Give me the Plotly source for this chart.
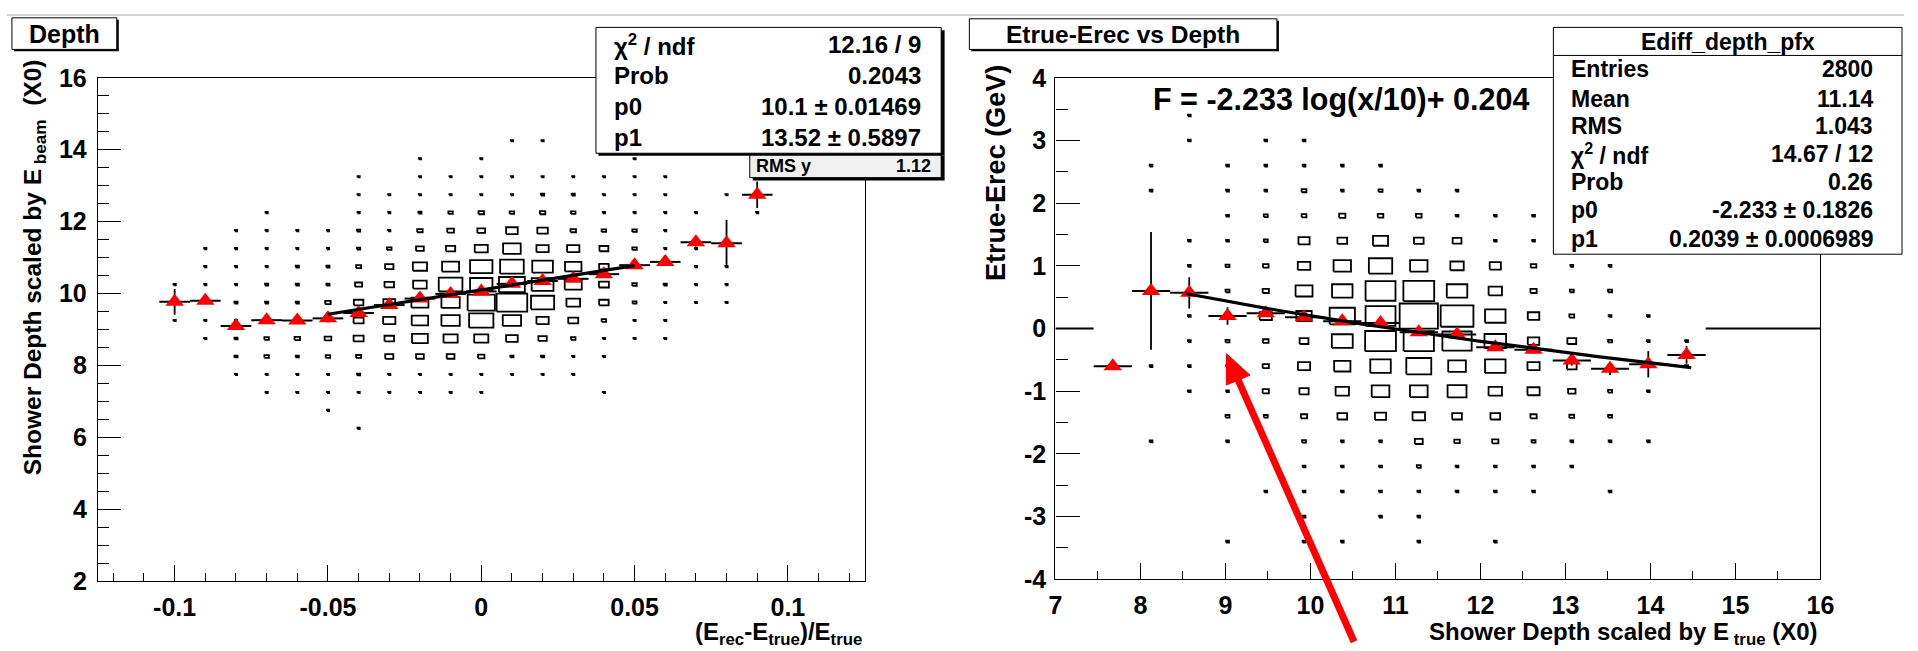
import numpy as np
import plotly.graph_objects as go

W, H = 1918, 651

# ---------------- data: left panel (Depth) ----------------
left_x = [-0.10, -0.09, -0.08, -0.07, -0.06, -0.05, -0.04, -0.03, -0.02, -0.01,
          0.00, 0.01, 0.02, 0.03, 0.04, 0.05, 0.06, 0.07, 0.08, 0.09]
left_y = [14.25, 13.75, 13.25, 12.75, 12.25, 11.75, 11.25, 10.75, 10.25, 9.75,
          9.25, 8.75, 8.25, 7.75, 7.25, 6.75, 6.25]
left_counts = [
    [0, 0, 0, 0, 0, 0, 0, 0, 0, 0, 0, 1, 1, 0, 0, 0, 0, 0, 0, 0],
    [0, 0, 0, 0, 0, 0, 0, 0, 1, 0, 1, 0, 0, 0, 0, 1, 0, 0, 0, 0],
    [0, 0, 0, 0, 0, 0, 1, 0, 1, 1, 1, 1, 1, 1, 1, 1, 1, 0, 0, 0],
    [0, 0, 0, 0, 0, 0, 1, 1, 1, 1, 1, 1, 2, 2, 1, 1, 1, 0, 1, 0],
    [0, 0, 0, 1, 0, 0, 1, 1, 2, 4, 6, 4, 6, 4, 1, 1, 1, 1, 0, 1],
    [0, 0, 1, 1, 1, 1, 2, 1, 6, 9, 12, 27, 22, 6, 4, 4, 1, 0, 0, 0],
    [0, 1, 1, 1, 1, 1, 2, 4, 12, 17, 34, 62, 30, 30, 16, 4, 1, 1, 0, 0],
    [0, 1, 1, 1, 2, 2, 5, 14, 40, 58, 100, 112, 85, 54, 18, 2, 0, 1, 1, 0],
    [1, 1, 1, 2, 2, 2, 10, 18, 37, 112, 100, 134, 95, 58, 20, 4, 2, 1, 1, 0],
    [1, 1, 2, 2, 2, 6, 18, 28, 58, 67, 148, 188, 107, 37, 18, 3, 1, 1, 1, 0],
    [1, 1, 1, 2, 2, 2, 20, 30, 54, 67, 118, 67, 30, 20, 4, 1, 1, 0, 0, 0],
    [0, 1, 2, 4, 6, 9, 20, 18, 50, 40, 40, 27, 14, 4, 1, 1, 1, 0, 0, 0],
    [0, 0, 2, 4, 2, 4, 5, 13, 12, 12, 8, 2, 2, 1, 1, 0, 0, 0, 0, 0],
    [0, 0, 1, 1, 1, 1, 2, 1, 1, 1, 1, 1, 1, 1, 0, 0, 0, 0, 0, 0],
    [0, 0, 0, 1, 1, 1, 1, 1, 1, 1, 1, 0, 0, 0, 1, 0, 0, 0, 0, 0],
    [0, 0, 0, 0, 0, 1, 0, 0, 0, 0, 0, 0, 0, 0, 0, 0, 0, 0, 0, 0],
    [0, 0, 0, 0, 0, 0, 1, 0, 0, 0, 0, 0, 0, 0, 0, 0, 0, 0, 0, 0],
]
left_prof_y = [9.77, 9.80, 9.10, 9.26, 9.25, 9.31, 9.46, 9.68, 9.86, 9.99,
               10.06, 10.27, 10.35, 10.41, 10.54, 10.79, 10.88, 11.43, 11.40, 12.75]
left_prof_err = [0.36, 0.08, 0.07, 0.05, 0.05, 0.05, 0.06, 0.05, 0.05, 0.04,
                 0.04, 0.04, 0.04, 0.05, 0.06, 0.07, 0.08, 0.12, 0.65, 0.37]
left_fit_p0, left_fit_p1 = 10.1, 13.52
left_fit_range = [-0.05, 0.05]

# ---------------- data: right panel (Etrue-Erec vs Depth) ----------------
right_x = [7.675, 8.125, 8.575, 9.025, 9.475, 9.925, 10.375, 10.825,
           11.275, 11.725, 12.175, 12.625, 13.075, 13.525, 13.975, 14.425]
right_y = [3.4, 3.0, 2.6, 2.2, 1.8, 1.4, 1.0, 0.6, 0.2,
           -0.2, -0.6, -1.0, -1.4, -1.8, -2.2, -2.6, -3.0, -3.4]
right_counts = [
    [0, 0, 1, 0, 0, 0, 0, 0, 0, 0, 0, 0, 0, 0, 0, 0],
    [0, 0, 1, 0, 1, 1, 0, 0, 0, 0, 0, 0, 0, 0, 0, 0],
    [0, 1, 0, 1, 1, 1, 1, 1, 0, 0, 0, 0, 0, 0, 0, 0],
    [0, 1, 0, 1, 1, 3, 1, 2, 1, 1, 0, 0, 0, 0, 0, 0],
    [0, 0, 0, 1, 2, 3, 5, 4, 4, 1, 1, 1, 0, 0, 0, 0],
    [0, 0, 1, 1, 2, 16, 12, 29, 12, 10, 1, 1, 0, 0, 0, 0],
    [0, 0, 1, 2, 4, 20, 39, 70, 39, 23, 16, 4, 1, 1, 0, 0],
    [0, 0, 1, 2, 5, 37, 54, 115, 122, 54, 23, 5, 2, 2, 0, 0],
    [0, 0, 1, 2, 19, 30, 82, 115, 188, 138, 54, 17, 3, 1, 1, 0],
    [0, 0, 1, 2, 4, 10, 56, 122, 118, 110, 60, 17, 10, 2, 1, 1],
    [1, 1, 1, 1, 5, 19, 34, 54, 80, 40, 54, 19, 12, 2, 1, 1],
    [0, 0, 1, 1, 5, 11, 23, 40, 40, 46, 23, 19, 7, 2, 1, 0],
    [0, 0, 0, 2, 2, 5, 12, 16, 20, 12, 12, 5, 3, 2, 0, 0],
    [0, 1, 0, 1, 0, 2, 1, 1, 8, 4, 5, 2, 1, 1, 1, 0],
    [0, 0, 0, 0, 0, 1, 1, 1, 2, 1, 1, 1, 1, 0, 0, 0],
    [0, 0, 0, 0, 1, 1, 1, 1, 1, 1, 1, 1, 0, 1, 0, 0],
    [0, 0, 0, 0, 0, 1, 0, 1, 1, 0, 0, 0, 0, 0, 0, 0],
    [0, 0, 0, 1, 0, 1, 1, 0, 1, 0, 1, 0, 0, 0, 0, 0],
]
right_prof_y = [-0.60, 0.60, 0.57, 0.20, 0.245, 0.18, 0.115, 0.09,
                -0.06, -0.095, -0.30, -0.34, -0.51, -0.64, -0.57, -0.42]
right_prof_err = [0.0, 0.94, 0.25, 0.14, 0.06, 0.05, 0.04, 0.04,
                  0.04, 0.04, 0.05, 0.06, 0.08, 0.10, 0.21, 0.14]
right_fit_p0, right_fit_p1 = -2.233, 0.2039
right_fit_range = [8.53, 14.48]

# tick labels
left_xticks = [-0.1, -0.05, 0, 0.05, 0.1]
left_xticklabels = ["-0.1", "-0.05", "0", "0.05", "0.1"]
left_yticks = [2, 4, 6, 8, 10, 12, 14, 16]
left_yticklabels = ["2", "4", "6", "8", "10", "12", "14", "16"]
right_xticks = [7, 8, 9, 10, 11, 12, 13, 14, 15, 16]
right_xticklabels = ["7", "8", "9", "10", "11", "12", "13", "14", "15", "16"]
right_yticks = [-4, -3, -2, -1, 0, 1, 2, 3, 4]
right_yticklabels = ["-4", "-3", "-2", "-1", "0", "1", "2", "3", "4"]

# stats text
left_stats = [("χ<sup>2</sup> / ndf", "12.16 / 9"), ("Prob", "0.2043"),
              ("p0", "10.1 ± 0.01469"), ("p1", "13.52 ± 0.5897")]
left_rms = ("RMS y", "1.12")
right_stats_title = "Ediff_depth_pfx"
right_stats = [("Entries", "2800"), ("Mean", "11.14"), ("RMS", "1.043"),
               ("χ<sup>2</sup> / ndf", "14.67 / 12"), ("Prob", "0.26"),
               ("p0", "-2.233 ± 0.1826"), ("p1", "0.2039 ± 0.0006989")]

FONT = "Liberation Sans, Arial, Helvetica, sans-serif"


def PX(x):
    return x / W


def PY(y):
    return 1 - y / H


def box_paths(xc, yc, counts, bw, bh):
    cmax = max(max(r) for r in counts)
    xs, ys = [], []
    for j, row in enumerate(counts):
        for i, c in enumerate(row):
            if c <= 0:
                continue
            f = np.sqrt(c / cmax)
            hw, hh = f * bw / 2, f * bh / 2
            x0, x1 = xc[i] - hw, xc[i] + hw
            y0, y1 = yc[j] - hh, yc[j] + hh
            xs += [x0, x1, x1, x0, x0, None]
            ys += [y0, y0, y1, y1, y0, None]
    return xs, ys


fig = go.Figure()

# left boxes
lbw = left_x[1] - left_x[0]
lbh = left_y[0] - left_y[1]
bx, by = box_paths(left_x, left_y, left_counts, lbw, lbh)
fig.add_trace(go.Scatter(x=bx, y=by, mode="lines", line=dict(color="black", width=1.8),
                         xaxis="x", yaxis="y", hoverinfo="skip", showlegend=False))
# left profile
fig.add_trace(go.Scatter(x=left_x, y=left_prof_y, mode="markers",
                         marker=dict(symbol="triangle-up", size=16, color="red"),
                         error_y=dict(type="data", array=left_prof_err, color="black", thickness=1.8, width=0),
                         error_x=dict(type="constant", value=lbw / 2, color="black", thickness=2, width=0),
                         xaxis="x", yaxis="y", showlegend=False))
# left fit
lfx = np.array(left_fit_range)
fig.add_trace(go.Scatter(x=lfx, y=left_fit_p0 + left_fit_p1 * lfx, mode="lines",
                         line=dict(color="black", width=3.2), xaxis="x", yaxis="y", showlegend=False))

# right boxes
rbw = right_x[1] - right_x[0]
rbh = right_y[0] - right_y[1]
bx, by = box_paths(right_x, right_y, right_counts, rbw, rbh)
fig.add_trace(go.Scatter(x=bx, y=by, mode="lines", line=dict(color="black", width=1.8),
                         xaxis="x2", yaxis="y2", hoverinfo="skip", showlegend=False))
# right zero line outside histogram range
xr = [7, 16]
hlo, hhi = right_x[0] - rbw / 2, right_x[-1] + rbw / 2
fig.add_trace(go.Scatter(x=[xr[0], hlo, None, hhi, xr[1]], y=[0, 0, None, 0, 0], mode="lines",
                         line=dict(color="black", width=2), xaxis="x2", yaxis="y2", showlegend=False))
# right profile
fig.add_trace(go.Scatter(x=right_x, y=right_prof_y, mode="markers",
                         marker=dict(symbol="triangle-up", size=16, color="red"),
                         error_y=dict(type="data", array=right_prof_err, color="black", thickness=1.8, width=0),
                         error_x=dict(type="constant", value=rbw / 2, color="black", thickness=2, width=0),
                         xaxis="x2", yaxis="y2", showlegend=False))
# right fit
rfx = np.linspace(right_fit_range[0], right_fit_range[1], 120)
fig.add_trace(go.Scatter(x=rfx, y=right_fit_p0 * np.log(rfx / 10) + right_fit_p1, mode="lines",
                         line=dict(color="black", width=3.2), xaxis="x2", yaxis="y2", showlegend=False))

tickfont = dict(family=FONT, size=25, color="black", weight="bold")
axis_common = dict(showgrid=False, zeroline=False, showline=True, linecolor="black", linewidth=1.4,
                   mirror=True, ticks="inside", tickcolor="black", tickwidth=1.4, tickfont=tickfont,
                   tickmode="array")

fig.update_layout(
    width=W, height=H, autosize=False,
    margin=dict(l=0, r=0, t=0, b=0),
    paper_bgcolor="white", plot_bgcolor="white",
    xaxis=dict(domain=[PX(92), PX(867)], range=[-0.125, 0.125], anchor="y",
               tickvals=left_xticks, ticktext=left_xticklabels, ticklen=16,
               minor=dict(tickmode="linear", tick0=0, dtick=0.01, ticklen=8, ticks="inside",
                          tickcolor="black", tickwidth=1.4),
               ticklabelstandoff=4, **axis_common),
    yaxis=dict(domain=[PY(592.7), PY(66.7)], range=[2, 16], anchor="x",
               tickvals=left_yticks, ticktext=left_yticklabels, ticklen=23,
               minor=dict(tickmode="linear", tick0=0, dtick=0.5, ticklen=11, ticks="inside",
                          tickcolor="black", tickwidth=1.4),
               ticklabelstandoff=5, **axis_common),
    xaxis2=dict(domain=[PX(1060), PX(1833.5)], range=[7, 16], anchor="y2",
                tickvals=right_xticks, ticktext=right_xticklabels, ticklen=16,
                minor=dict(tickmode="linear", tick0=0, dtick=0.5, ticklen=8, ticks="inside",
                           tickcolor="black", tickwidth=1.4),
                ticklabelstandoff=4, **axis_common),
    yaxis2=dict(domain=[PY(590.7), PY(66.7)], range=[-4, 4], anchor="x2",
                tickvals=right_yticks, ticktext=right_yticklabels, ticklen=24,
                minor=dict(tickmode="linear", tick0=0, dtick=0.5, ticklen=12, ticks="inside",
                           tickcolor="black", tickwidth=1.4),
                ticklabelstandoff=3, **axis_common),
)

shapes = []


def rect(x0, y0, x1, y1, fill="white", line=1, lc="black"):
    shapes.append(dict(type="rect", xref="paper", yref="paper",
                       x0=PX(x0), x1=PX(x1), y0=PY(y1), y1=PY(y0),
                       fillcolor=fill, line=dict(color=lc, width=line), layer="above"))


# top gray strip
rect(0, 0, W, 2, fill="#d2d2d2", line=0, lc="rgba(0,0,0,0)")
# title boxes with shadow
rect(7, 6, 113, 39, fill="black", line=0, lc="rgba(0,0,0,0)")
rect(5, 4, 111, 37)
rect(975, 7, 1286, 39, fill="black", line=0, lc="rgba(0,0,0,0)")
rect(973, 5, 1284, 37)
# left stats (RMS y underneath, fit box on top)
rect(754, 148, 948, 174, fill="black", line=0, lc="rgba(0,0,0,0)")
rect(751, 145, 944.5, 171, fill="#f0f0f0")
rect(598, 17, 948, 148, fill="black", line=0, lc="rgba(0,0,0,0)")
rect(595.5, 14, 944.5, 145.5)
# right stats
rect(1563.5, 14, 1916, 251)
shapes.append(dict(type="line", xref="paper", yref="paper", x0=PX(1563.5), x1=PX(1916),
                   y0=PY(43.3), y1=PY(43.3), line=dict(color="black", width=1), layer="above"))

# red arrow (annotation decoration)
tip = np.array([1233.0, 355.0])
tail = np.array([1362.0, 656.0])
u = (tail - tip) / np.linalg.norm(tail - tip)
n = np.array([u[1], -u[0]])
base = tip + 30 * u
b1, b2 = base + 13 * n, base - 13 * n
shapes.append(dict(type="line", xref="paper", yref="paper", x0=PX(base[0] - 2 * u[0]), y0=PY(base[1] - 2 * u[1]),
                   x1=PX(tail[0]), y1=PY(tail[1]), line=dict(color="#ff0000", width=7), layer="above"))
shapes.append(dict(type="path", xref="paper", yref="paper",
                   path=f"M {PX(tip[0])},{PY(tip[1])} L {PX(b1[0])},{PY(b1[1])} L {PX(b2[0])},{PY(b2[1])} Z",
                   fillcolor="#ff0000", line=dict(color="#ff0000", width=1), layer="above"))

fig.update_layout(shapes=shapes)

ann = []


def text(x, y, s, size, xanchor="left", yanchor="middle", angle=0):
    ann.append(dict(x=PX(x), y=PY(y), xref="paper", yref="paper", text=s, showarrow=False,
                    xanchor=xanchor, yanchor=yanchor, textangle=angle,
                    font=dict(family=FONT, size=size, color="black", weight="bold")))


text(58, 21, "Depth", 25, xanchor="center")
text(1128.5, 21, "Etrue-Erec vs Depth", 24.5, xanchor="center")
# left stats text
for (lab, val), yy in zip(left_stats, [32, 64.5, 97, 129]):
    text(612, yy, lab, 24)
    text(926, yy, val, 24, xanchor="right")
text(755, 158.5, left_rms[0], 18)
text(936, 158.5, left_rms[1], 18, xanchor="right")
# right stats text
text(1740, 29.5, right_stats_title, 23, xanchor="center")
for (lab, val), yy in zip(right_stats, [57.3, 89.3, 117.3, 146.7, 176, 205, 235]):
    text(1579, yy, lab, 23)
    text(1889, yy, val, 23, xanchor="right")
# fit formula
text(1157, 89, "F = -2.233 log(x/10)+ 0.204", 30.5)
# axis titles
text(866, 666, "(E<sub>rec</sub>-E<sub>true</sub>)/E<sub>true</sub>", 24, xanchor="right", yanchor="bottom")
text(1832, 666, "Shower Depth scaled by E<sub> true</sub> (X0)", 24, xanchor="right", yanchor="bottom")
text(28, 265, "Shower Depth scaled by E<sub> beam</sub>  (X0)", 24.5, xanchor="center", yanchor="middle",
     angle=-90)
text(1000, 166, "Etrue-Erec (GeV)", 27, xanchor="center", yanchor="middle", angle=-90)

fig.update_layout(annotations=ann)
fig.write_html("out.html")
